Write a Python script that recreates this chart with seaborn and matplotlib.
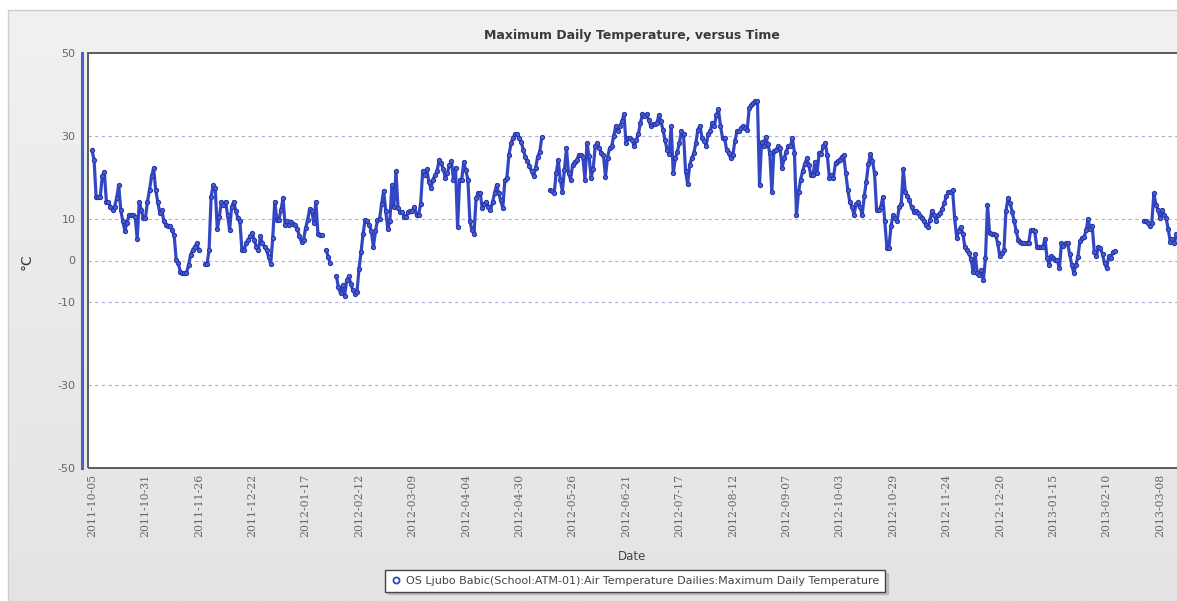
import numpy as np
import pandas as pd
import matplotlib
matplotlib.use("Agg")
import matplotlib.pyplot as plt
from matplotlib.lines import Line2D
from matplotlib.patches import Rectangle
from matplotlib.colors import LinearSegmentedColormap
import seaborn as sns

nan = np.nan

# ---------------------------------------------------------------------------
# Daily maximum air temperature (°C), one list per calendar month.
# NaN marks days without a reading.
# ---------------------------------------------------------------------------
first_day = "2011-10-05"

oct_2011 = [26.6, 24.3, 15.3, 15.3, 15.3, 20.3, 21.4, 14.2, 14.0, 13.0, 12.2, 13.0,
            15.0, 18.2, 12.2, 9.4, 7.2, 9.0, 11.0, 11.0, 11.0, 10.6, 5.2, 14.2,
            12.2, 10.2, 10.2]
nov_2011 = [14.2, 17.0, 20.3, 22.3, 17.0, 14.2, 11.4, 12.2, 9.4, 8.6, 8.2, 8.2,
            7.3, 6.1, 0.1, -0.7, -2.7, -3.0, -3.0, -3.0, -1.1, 1.3, 2.5, 3.3,
            4.1, 2.5, nan, nan, -0.9, -0.9]
dec_2011 = [2.5, 15.4, 18.2, 17.4, 7.5, 10.5, 14.2, 13.4, 14.2, 11.0, 7.3, 13.0,
            14.2, 12.0, 10.2, 9.4, 2.5, 2.5, 4.1, 5.0, 5.8, 6.6, 4.9, 3.3,
            2.5, 5.8, 4.1, 3.3, 2.5, 0.9, -0.9]
jan_2012 = [5.4, 14.2, 9.8, 9.8, 12.2, 15.0, 8.6, 9.4, 8.6, 9.2, 8.9, 8.6,
            7.5, 5.8, 4.5, 5.0, 7.8, 9.8, 12.5, 12.0, 9.0, 14.2, 6.5, 6.1,
            6.1, nan, 2.5, 0.9, -0.7, nan, nan]
feb_2012 = [-3.8, -6.5, -7.9, -6.0, -8.5, -4.8, -3.8, -5.6, -7.2, -8.0, -7.6, -2.0,
            2.1, 6.5, 9.8, 9.4, 8.6, 7.0, 3.3, 7.0, 9.7, 10.0, 13.7, 16.8,
            12.0, 7.6, 9.4, 18.2, 13.0]
mar_2012 = [21.5, 12.6, 11.8, 11.8, 10.6, 10.6, 11.8, 12.0, 12.0, 13.0, 10.9, 11.0,
            13.6, 21.5, 20.5, 22.0, 19.0, 17.4, 19.5, 20.5, 21.5, 24.2, 23.5, 22.0,
            20.0, 21.0, 23.0, 23.9, 19.5, 22.4, 8.0]
apr_2012 = [19.5, 19.5, 23.7, 21.7, 19.5, 9.4, 7.3, 6.5, 15.0, 16.2, 16.2, 12.6,
            13.6, 14.2, 13.0, 12.2, 14.0, 16.2, 18.2, 16.2, 14.5, 12.6, 19.3, 20.0,
            25.4, 28.2, 29.6, 30.4, 30.4, 29.4]
may_2012 = [28.6, 26.6, 25.0, 24.0, 22.8, 21.5, 20.3, 22.4, 25.0, 26.2, 29.7, nan,
            nan, nan, 17.0, 16.8, 16.2, 21.0, 24.2, 19.5, 16.6, 21.9, 27.1, 21.0,
            19.5, 23.0, 23.8, 24.2, 25.4, 25.4, 25.0]
jun_2012 = [19.5, 28.3, 25.1, 20.0, 22.0, 27.5, 28.3, 27.1, 25.8, 25.4, 20.2, 24.8,
            27.1, 27.5, 30.0, 32.4, 31.2, 32.4, 33.5, 35.2, 28.3, 29.5, 29.5, 29.0,
            27.5, 29.0, 30.4, 33.1, 35.2, 34.8]
jul_2012 = [35.2, 33.9, 32.4, 32.8, 33.0, 33.1, 35.0, 33.5, 31.5, 29.1, 26.6, 25.6,
            32.4, 21.0, 24.6, 26.2, 28.3, 31.2, 30.4, 21.5, 18.4, 23.0, 24.6, 25.8,
            28.3, 31.5, 32.5, 29.6, 28.9, 27.7, 30.4]
aug_2012 = [31.2, 33.1, 32.4, 35.0, 36.4, 32.4, 29.5, 29.5, 26.6, 25.8, 24.6, 25.4,
            28.7, 31.2, 31.2, 32.0, 32.4, 32.0, 31.5, 36.8, 37.5, 38.0, 38.4, 38.4,
            18.2, 28.5, 27.7, 29.8, 28.0, 26.0, 16.5]
sep_2012 = [26.5, 26.6, 27.5, 27.1, 22.4, 24.6, 26.2, 27.5, 27.5, 29.5, 26.0, 11.0,
            16.5, 19.5, 21.5, 23.2, 24.6, 23.0, 20.5, 20.5, 23.8, 21.0, 25.8, 25.6,
            27.5, 28.3, 25.4, 20.0, 20.6, 20.0]
oct_2012 = [23.6, 24.0, 24.3, 25.0, 25.4, 21.0, 17.0, 14.0, 12.9, 11.0, 13.6, 14.2,
            12.9, 11.0, 15.5, 19.0, 23.2, 25.6, 24.0, 21.0, 12.2, 12.2, 12.8, 15.3,
            9.5, 3.1, 3.1, 8.2, 10.9, 10.2, 9.4]
nov_2012 = [13.0, 13.6, 22.0, 16.6, 15.5, 14.5, 12.8, 11.8, 12.0, 11.5, 10.8, 10.2,
            9.4, 8.5, 8.1, 9.8, 12.0, 10.9, 9.6, 11.0, 11.5, 12.5, 13.9, 15.6,
            16.4, 16.4, 17.0, 10.2, 5.5, 7.2]
dec_2012 = [8.1, 6.5, 3.2, 2.5, 1.7, 0.3, -2.7, 1.5, -3.1, -3.5, -2.3, -4.8,
            0.5, 13.4, 6.7, 6.5, 6.5, 6.1, 4.1, 1.0, 1.7, 2.5, 12.0, 15.0,
            13.8, 11.8, 9.5, 7.0, 4.9, 4.5, 4.1]
jan_2013 = [4.1, 4.1, 4.1, 7.3, 7.3, 7.0, 3.3, 3.3, 3.3, 3.3, 5.3, 0.5,
            -1.0, 1.0, 0.5, 0.1, 0.1, -1.9, 4.1, 3.5, 4.1, 4.1, 1.5, -1.0,
            -3.1, -1.1, 0.9, 4.6, 5.5, 5.6, 7.3]
feb_2013 = [10.0, 7.5, 8.2, 2.1, 1.0, 3.3, 2.9, 1.5, -0.7, -1.9, 1.0, 0.5,
            2.0, 2.3, nan, nan, nan, nan, nan, nan, nan, nan, nan, nan,
            nan, nan, nan, 9.4]
mar_2013 = [9.4, 9.0, 8.2, 9.0, 16.2, 13.4, 12.2, 10.2, 12.2, 11.0, 10.2, 7.5,
            4.5, 5.3, 4.1, 6.5]

date_ticks = ["2011-10-05", "2011-10-31", "2011-11-26", "2011-12-22", "2012-01-17",
              "2012-02-12", "2012-03-09", "2012-04-04", "2012-04-30", "2012-05-26",
              "2012-06-21", "2012-07-17", "2012-08-12", "2012-09-07", "2012-10-03",
              "2012-10-29", "2012-11-24", "2012-12-20", "2013-01-15", "2013-02-10",
              "2013-03-08"]
y_major = [-50, -30, -10, 0, 10, 30, 50]
y_minor = [-40, -20, 20, 40]

title = "Maximum Daily Temperature, versus Time"
series_name = ("OS Ljubo Babic(School:ATM-01):Air Temperature Dailies:"
               "Maximum Daily Temperature")

# ---------------------------------------------------------------------------
months = [oct_2011, nov_2011, dec_2011, jan_2012, feb_2012, mar_2012, apr_2012,
          may_2012, jun_2012, jul_2012, aug_2012, sep_2012, oct_2012, nov_2012,
          dec_2012, jan_2013, feb_2013, mar_2013]
tmax = np.concatenate([np.asarray(m, dtype=float) for m in months])
dates = pd.date_range(first_day, periods=len(tmax), freq="D")

df = pd.DataFrame({"date": dates, "tmax": tmax})
# every run of missing days starts a new line segment
df["segment"] = df["tmax"].isna().cumsum()
df = df.dropna(subset=["tmax"])

W, H = 1177, 601
sns.set_style("white")
plt.rcParams["font.family"] = ["DejaVu Sans"]

fig = plt.figure(figsize=(W / 100, H / 100), dpi=100, facecolor="white")

# grey chart panel with a soft vertical gradient
bg = fig.add_axes([8 / W, 0, 1.0, (H - 10) / H], zorder=-10)
panel_cmap = LinearSegmentedColormap.from_list("panel", ["#e4e4e4", "#f1f1f1"])
bg.imshow(np.linspace(0, 1, 256).reshape(-1, 1), aspect="auto", cmap=panel_cmap,
          origin="lower", extent=[0, 1, 0, 1])
bg.set_axis_off()
fig.add_artist(Rectangle((8 / W, -0.02), 1.0, (H - 10) / H + 0.02,
                         transform=fig.transFigure, fill=False,
                         ec="#cdcdcd", lw=1.0))

ax = fig.add_axes([88 / W, 133 / H, (1182 - 88) / W, 415 / H])
ax.set_facecolor("white")

line_color = "#3347c4"
sns.lineplot(data=df, x="date", y="tmax", units="segment", estimator=None,
             sort=False, ax=ax, color=line_color, linewidth=2.3,
             marker="o", markersize=3.0, markerfacecolor="#4d60d0",
             markeredgecolor="#2637ad", markeredgewidth=0.8, legend=False)

d0 = pd.Timestamp(first_day)
ax.set_xlim(d0 - pd.Timedelta(days=1.95), d0 + pd.Timedelta(days=530.7))
ax.set_ylim(-50, 50)

ax.set_yticks(y_major)
ax.set_yticks(y_minor, minor=True)
ax.set_yticklabels([str(v) for v in y_major])
ax.tick_params(axis="y", which="major", length=3, width=0.8, color="#8a8a8a",
               labelsize=8, labelcolor="#666666", pad=2)
ax.tick_params(axis="y", which="minor", length=2, width=0.8, color="#8a8a8a")

tick_pos = pd.to_datetime(date_ticks)
ax.set_xticks(tick_pos)
ax.set_xticklabels(date_ticks, rotation=90, fontsize=7.8, color="#666666",
                   family="DejaVu Serif")
ax.tick_params(axis="x", length=0, pad=4)
ax.xaxis.set_minor_locator(matplotlib.ticker.NullLocator())

ax.grid(axis="y", which="major", color="#a9b1cf", linestyle=(0, (3, 3)),
        linewidth=0.8)
ax.grid(axis="x", visible=False)

for side in ("top", "right", "bottom"):
    ax.spines[side].set_visible(False)
ax.spines["left"].set_position(("outward", 4))
ax.spines["left"].set_color("#4a5fc8")
ax.spines["left"].set_linewidth(2.2)

# dark plot frame
ax.add_patch(Rectangle((0, 0), 1, 1, transform=ax.transAxes, fill=False,
                       ec="#5c5c5c", lw=1.4, clip_on=False, zorder=6))

ax.set_xlabel("")
ax.set_ylabel("")

fig.text(632 / W, (H - 36) / H, title, ha="center", va="center",
         fontsize=9, fontweight="bold", color="#3a3a3a")
fig.text(27 / W, (H - 262) / H, "°C", rotation=90, ha="center", va="center",
         fontsize=10, color="#333333")
fig.text(632 / W, (H - 556) / H, "Date", ha="center", va="center",
         fontsize=8.5, color="#444444")

handle = Line2D([], [], linestyle="none", marker="o", markersize=4.4,
                markerfacecolor="white", markeredgecolor=line_color,
                markeredgewidth=1.3)
leg = fig.legend(handles=[handle], labels=[series_name], loc="center",
                 bbox_to_anchor=(635 / W, 20 / H), fontsize=8,
                 frameon=True, fancybox=False,
                 shadow={"color": "#a8a8a8", "alpha": 0.6},
                 borderpad=0.5, handletextpad=0.4, handlelength=1.0,
                 borderaxespad=0)
leg.get_frame().set_edgecolor("#444444")
leg.get_frame().set_linewidth(1.0)
leg.get_frame().set_facecolor("white")
for t in leg.get_texts():
    t.set_color("#444444")

fig.savefig("out.png", dpi=100, facecolor="white")
